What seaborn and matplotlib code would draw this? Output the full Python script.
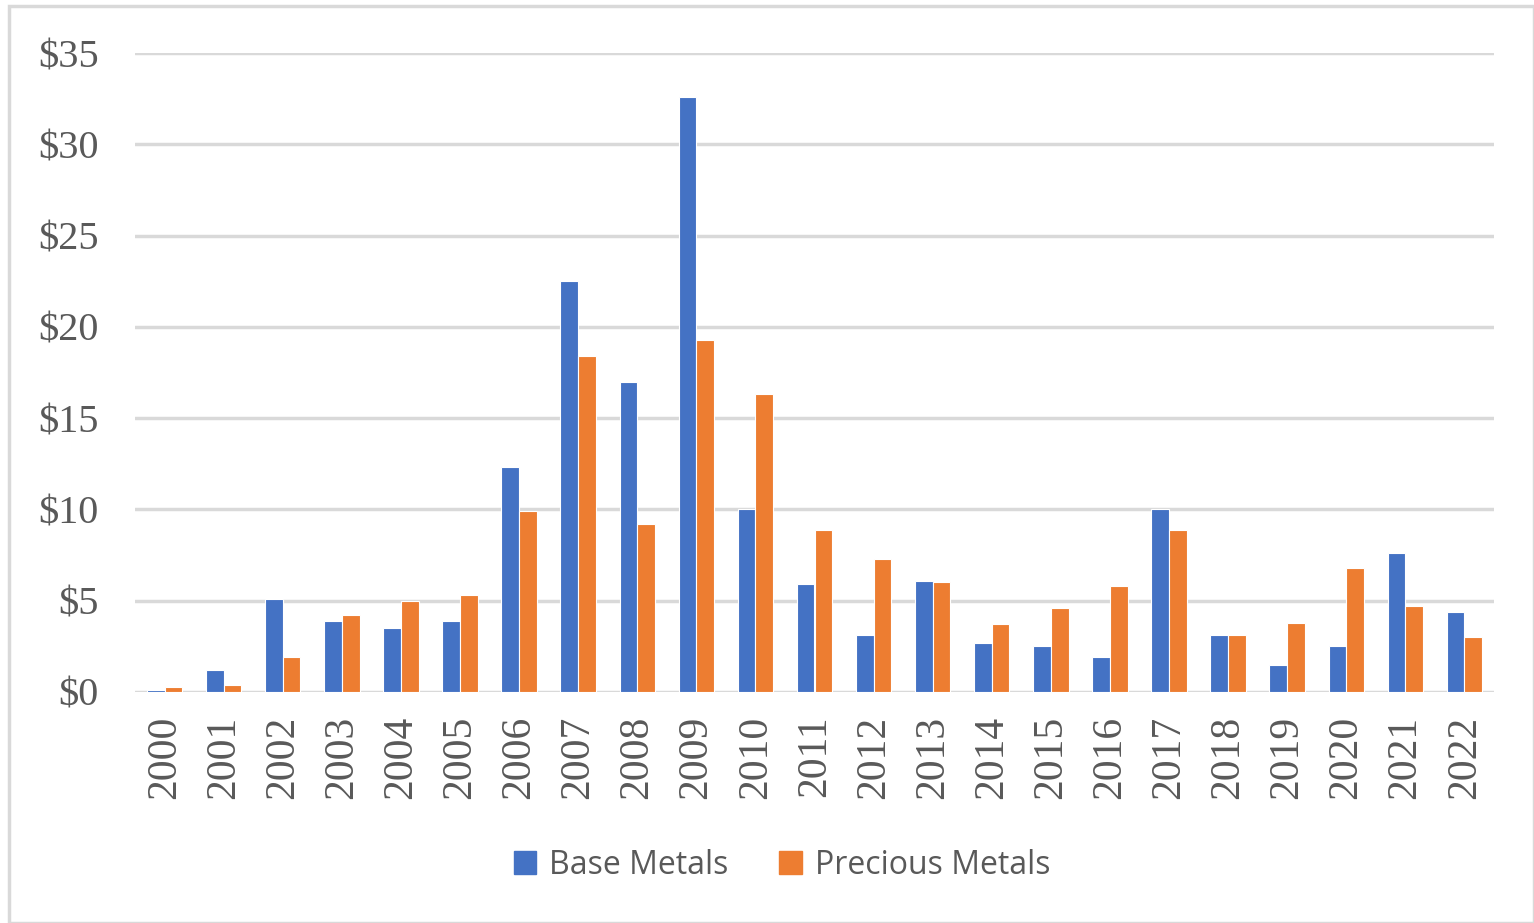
import matplotlib
matplotlib.use("Agg")
import matplotlib.pyplot as plt
import seaborn as sns
import pandas as pd
from matplotlib.ticker import MultipleLocator, FuncFormatter
from matplotlib.patches import Rectangle

years = [str(y) for y in range(2000, 2023)]
base_metals = [0.1, 1.2, 5.1, 3.9, 3.5, 3.9, 12.3, 22.5, 17.0, 32.6, 10.0, 5.9,
               3.1, 6.1, 2.7, 2.5, 1.9, 10.0, 3.1, 1.5, 2.5, 7.6, 4.4]
precious_metals = [0.3, 0.4, 1.9, 4.2, 5.0, 5.3, 9.9, 18.4, 9.2, 19.3, 16.3, 8.9,
                   7.3, 6.0, 3.7, 4.6, 5.8, 8.9, 3.1, 3.8, 6.8, 4.7, 3.0]
series_names = ["Base Metals", "Precious Metals"]
colors = ["#4472C4", "#ED7D31"]

df = pd.DataFrame({
    "Year": years * 2,
    "Value": base_metals + precious_metals,
    "Series": [series_names[0]] * len(years) + [series_names[1]] * len(years),
})

sns.set_theme(style="white")
fig = plt.figure(figsize=(15.34, 9.23), dpi=100)
ax = fig.add_axes([135 / 1534, 1 - 692 / 923, (1494 - 135) / 1534, (692 - 53) / 923])

sns.barplot(data=df, x="Year", y="Value", hue="Series", palette=colors,
            saturation=1, width=0.6, edgecolor="white", linewidth=0.8,
            ax=ax, zorder=3)

ax.set_ylim(0, 35)
ax.set_xlim(-0.5, len(years) - 0.5)
ax.yaxis.set_major_locator(MultipleLocator(5))
ax.yaxis.set_major_formatter(FuncFormatter(lambda v, p: f"${v:.0f}"))
ax.grid(axis="y", color="#D9D9D9", linewidth=2.5, zorder=0)
ax.set_axisbelow(True)
for s in ax.spines.values():
    s.set_visible(False)
ax.set_xlabel("")
ax.set_ylabel("")
ax.tick_params(axis="both", length=0)
ax.tick_params(axis="y", pad=26)
ax.tick_params(axis="x", pad=17)
for lab in ax.get_yticklabels():
    lab.set_fontfamily("Liberation Serif")
    lab.set_fontsize(29)
    lab.set_color("#595959")
for lab in ax.get_xticklabels():
    lab.set_fontfamily("Liberation Serif")
    lab.set_fontsize(30)
    lab.set_color("#595959")
    lab.set_rotation(90)

ax.legend_.remove()
handles = [Rectangle((0, 0), 1, 1, color=c) for c in colors]
fig.legend(handles, series_names, loc="center", bbox_to_anchor=(782 / 1534, 1 - 865 / 923),
           ncol=2, frameon=False, prop={"family": "Open Sans", "size": 23},
           labelcolor="#595959", handlelength=0.7, handleheight=0.75,
           handletextpad=0.4, columnspacing=1.6)

# light frame around the whole chart area
fig.add_artist(Rectangle((9 / 1534, 0.0), 1 - 9 / 1534, 1 - 6 / 923,
                         transform=fig.transFigure, fill=False,
                         edgecolor="#D9D9D9", linewidth=2.5))

fig.savefig("out.png", dpi=100, facecolor="white")
